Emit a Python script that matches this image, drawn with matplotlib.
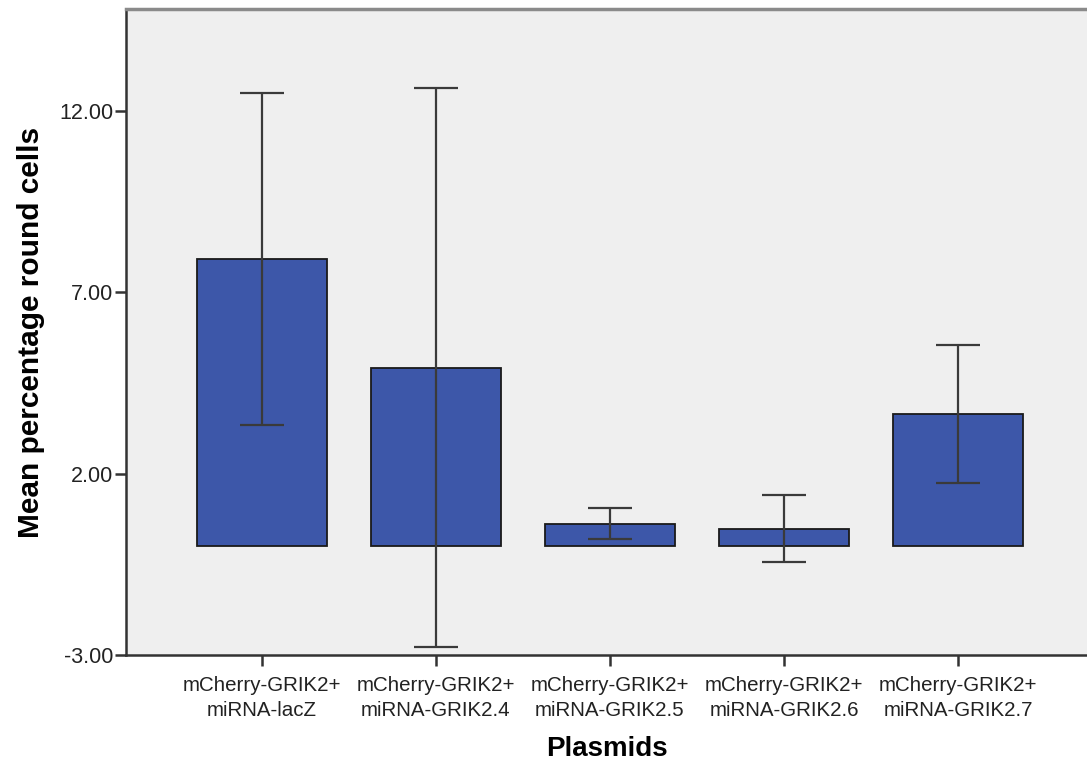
import numpy as np
import matplotlib
matplotlib.use("Agg")
import matplotlib.pyplot as plt

plt.rcParams['font.family'] = ['Liberation Sans', 'DejaVu Sans']

plasmids = ["mCherry-GRIK2+\nmiRNA-lacZ", "mCherry-GRIK2+\nmiRNA-GRIK2.4",
            "mCherry-GRIK2+\nmiRNA-GRIK2.5", "mCherry-GRIK2+\nmiRNA-GRIK2.6",
            "mCherry-GRIK2+\nmiRNA-GRIK2.7"]
means = [7.92, 4.92, 0.62, 0.47, 3.65]
err_low = [3.35, -2.79, 0.21, -0.45, 1.75]
err_high = [12.49, 12.62, 1.04, 1.42, 5.53]
yticks = [-3.0, 2.0, 7.0, 12.0]

fig = plt.figure(figsize=(10.87, 7.65), dpi=100)
ax = fig.add_axes([126/1087, 110/765, 1 - 126/1087, (655 - 9)/765])
ax.set_facecolor("#efefef")

x = np.arange(len(plasmids))
means = np.array(means)
yerr = [means - np.array(err_low), np.array(err_high) - means]
ax.bar(x, means, width=0.75, color="#3d57a9", edgecolor="#1a1a1a", linewidth=1.3, zorder=2)
ax.errorbar(x, means, yerr=yerr, fmt="none", ecolor="#3a3a3a", elinewidth=1.6,
            capsize=16, capthick=1.6, zorder=3)

ax.set_xlim(-0.78, 4.74)
ax.set_ylim(-3, 14.8)
ax.set_yticks(yticks)
ax.set_yticklabels(["%.2f" % v for v in yticks], fontsize=15.5, color="#222222")
ax.set_xticks(x)
ax.set_xticklabels(plasmids, fontsize=14.8, color="#222222", linespacing=1.4)
ax.tick_params(axis="both", length=8, width=1.8, color="#333333")
ax.tick_params(axis="y", pad=1)
ax.tick_params(axis="x", pad=7)

ax.spines["right"].set_visible(False)
ax.spines["top"].set_color("#8a8a8a")
ax.spines["top"].set_linewidth(2.5)
for s in ["left", "bottom"]:
    ax.spines[s].set_color("#333333")
    ax.spines[s].set_linewidth(1.8)

ax.set_xlabel("Plasmids", fontsize=20, fontweight="bold", labelpad=12)
ax.set_ylabel("Mean percentage round cells", fontsize=21.5, fontweight="bold", labelpad=10)

fig.savefig("out.png", dpi=100)
